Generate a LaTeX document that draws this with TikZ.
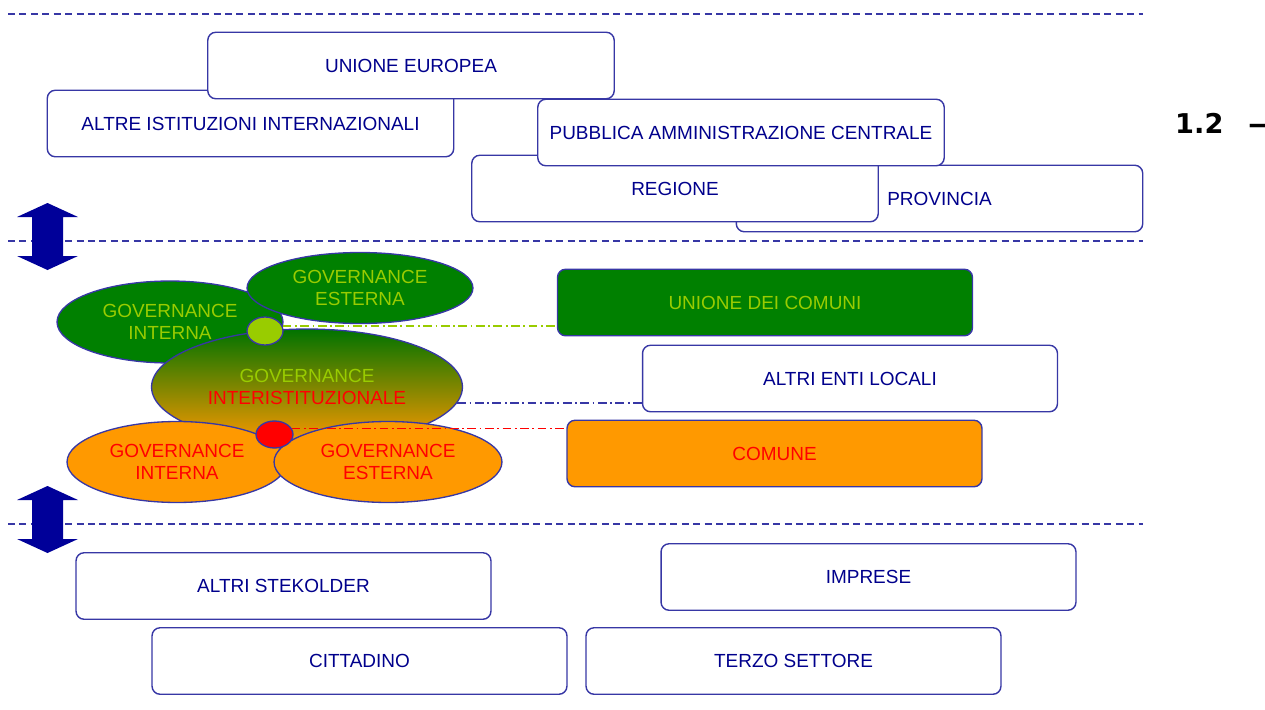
\documentclass[tikz,border=0pt]{standalone}
\usepackage{fontspec}
\setmainfont{Liberation Sans}
\newfontfamily\numfont{DejaVu Sans}
\usepackage{tikz}
\usetikzlibrary{positioning}
\usetikzlibrary{shapes.geometric}

\definecolor{navytext}{RGB}{0,0,140}
\definecolor{boxline}{RGB}{55,55,165}
\definecolor{darkgreen}{RGB}{0,128,0}
\definecolor{lgreen}{RGB}{153,204,0}
\definecolor{orangefill}{RGB}{255,153,0}
\definecolor{arrowblue}{RGB}{0,0,153}

\begin{document}
\begin{tikzpicture}[x=0.02cm,y=-0.02cm,
                    font=\fontsize{10.8}{12.5}\selectfont]
  \tikzstyle{instbox}=[draw=boxline,line width=0.8pt,rounded corners=0.16cm,
                       fill=white,text=navytext,inner sep=0pt,
                       minimum width=8.13cm,minimum height=1.33cm]
  \tikzstyle{localbox}=[instbox,minimum width=8.3cm]
  \tikzstyle{gov}=[ellipse,draw=boxline,line width=0.75pt,inner sep=0pt,align=center]
  \tikzstyle{levelsep}=[draw=boxline,line width=0.6pt,dash pattern=on 4pt off 2.5pt]
  \tikzstyle{link}=[line width=1pt,dash pattern=on 5pt off 2pt on 1pt off 2pt]

  \useasboundingbox (0,0) rectangle (1265,710);

  % livelli
  \draw[levelsep] (8,14) -- (1143,14);
  \draw[levelsep] (8,241) -- (1143,241);
  \draw[levelsep] (8,524) -- (1143,524);

  \foreach \ym in {236.5,519.5}
    \fill[arrowblue] (47.5,\ym-33.5) -- (78,\ym-19.5) -- (63,\ym-19.5)
      -- (63,\ym+19.5) -- (78,\ym+19.5) -- (47.5,\ym+33.5) -- (17,\ym+19.5)
      -- (32,\ym+19.5) -- (32,\ym-19.5) -- (17,\ym-19.5) -- cycle;

  \node[anchor=base west,font=\numfont\bfseries\fontsize{15.5}{18}\selectfont]
       (num) at (1169,133) {1.2\hspace{0.5cm}—};

  % istituzioni
  \node[instbox]  (altre) at (250.5,123.5) {ALTRE ISTITUZIONI INTERNAZIONALI};
  \node[instbox]  (ue)    at (411,65.5)    {UNIONE EUROPEA};
  \node[instbox]  (prov)  at (939.5,198.5) {PROVINCIA};
  \node[instbox]  (reg)   at (675,188.5)   {REGIONE};
  \node[instbox]  (pac)   at (741,132.5)   {PUBBLICA AMMINISTRAZIONE CENTRALE};

  % enti locali
  \node[localbox,fill=darkgreen,text=lgreen] (udc) at (765,302.5) {UNIONE DEI COMUNI};
  \node[localbox] (enti) at (850,378.5) {ALTRI ENTI LOCALI};
  \node[localbox,fill=orangefill,text=red] (comune) at (774.5,453.5) {COMUNE};

  % governance
  \node[gov,fill=darkgreen,text=lgreen,minimum width=4.52cm,minimum height=1.64cm]
       (gi) at (170,322) {GOVERNANCE\\INTERNA};
  \node[gov,fill=darkgreen,text=lgreen,minimum width=4.52cm,minimum height=1.42cm]
       (ge) at (360,288) {GOVERNANCE\\ESTERNA};
  \node[gov,top color=darkgreen!90!black,bottom color=orangefill,
        minimum width=6.22cm,minimum height=2.32cm]
       (inter) at (307,387) {\textcolor{lgreen}{GOVERNANCE}\\\textcolor{red}{INTERISTITUZIONALE}};
  \node[gov,fill=orangefill,text=red,minimum width=4.4cm,minimum height=1.62cm]
       (oi) at (177,462) {GOVERNANCE\\INTERNA};
  \node[gov,fill=orangefill,text=red,minimum width=4.56cm,minimum height=1.62cm]
       (oe) at (388,462) {GOVERNANCE\\ESTERNA};
  \node[gov,fill=lgreen,minimum width=0.72cm,minimum height=0.56cm] (dotg) at (265,331) {};
  \node[gov,fill=red,minimum width=0.74cm,minimum height=0.54cm] (dotr) at (274.5,434.5) {};

  \draw[link,lgreen] (dotg.15) -- (dotg.15 -| udc.west);
  \draw[link,boxline] (inter.-6) -- (inter.-6 -| enti.west);
  \draw[link,red,line width=0.6pt] (dotr.20) -- (dotr.20 -| comune.west);

  % societa
  \node[localbox] (stake)  at (283.5,586) {ALTRI STEKOLDER};
  \node[localbox] (impr)   at (868.5,577) {IMPRESE};
  \node[localbox] (citt)   at (359.5,661) {CITTADINO};
  \node[localbox] (terzo)  at (793.5,661) {TERZO SETTORE};
\end{tikzpicture}
\end{document}
